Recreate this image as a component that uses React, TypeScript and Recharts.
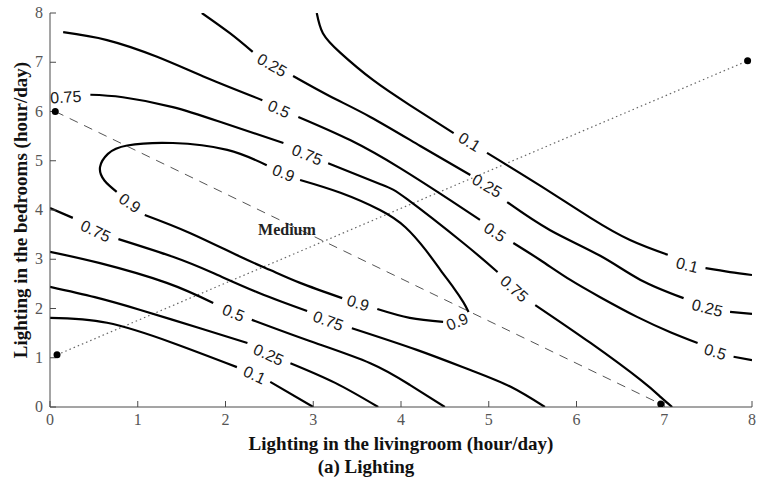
import { ComposedChart, Label, Line, Scatter, XAxis, YAxis } from "recharts";

type Row = [number, number | null];

const AXIS_TICKS = [0, 1, 2, 3, 4, 5, 6, 7, 8];

// contour lines; a null y leaves the gap where the inline label sits
const level010Upper: Row[] = [
  [3.04, 8.0], [3.11, 7.59], [3.31, 7.19], [3.68, 6.64], [4.1, 6.13], [4.6, 5.56],
  [4.78, null],
  [4.98, 5.16], [5.59, 4.49], [6.16, 3.84], [6.61, 3.39], [7.04, 3.09],
  [7.26, null],
  [7.47, 2.82], [7.75, 2.74], [8.0, 2.68],
];

const level025Upper: Row[] = [
  [1.73, 8.0], [2.05, 7.59], [2.31, 7.21],
  [2.53, null],
  [2.77, 6.72], [3.19, 6.31], [3.65, 5.89], [4.22, 5.3], [4.79, 4.71],
  [4.98, null],
  [5.21, 4.16], [5.7, 3.59], [6.27, 3.07], [6.73, 2.58], [7.22, 2.21],
  [7.49, null],
  [7.75, 1.93], [8.0, 1.89],
];

const level050Upper: Row[] = [
  [0.15, 7.61], [0.65, 7.45], [1.22, 7.11], [1.79, 6.68], [2.42, 6.23],
  [2.61, null],
  [2.83, 5.89], [3.42, 5.42], [3.99, 4.85], [4.56, 4.2], [4.9, 3.8],
  [5.07, null],
  [5.28, 3.33], [5.59, 2.98], [5.93, 2.58], [6.27, 2.23], [6.69, 1.83], [7.07, 1.52], [7.38, 1.3],
  [7.58, null],
  [7.79, 1.02], [8.0, 0.95],
];

const level075Upper: Row[] = [
  [0.46, 6.34], [0.83, 6.29], [1.4, 6.09], [1.97, 5.77], [2.66, 5.36],
  [2.93, null],
  [3.17, 4.95], [3.76, 4.53], [4.07, 4.22], [4.71, 3.33], [5.1, 2.74],
  [5.29, null],
  [5.53, 2.07], [6.16, 1.3], [6.73, 0.55], [6.96, 0.2], [7.09, 0],
];

const level090Loop: Row[] = [
  [4.48, 1.73], [4.1, 1.81], [3.73, 1.99],
  [3.51, null],
  [3.33, 2.21], [2.85, 2.52], [2.51, 2.78], [2.17, 3.05], [1.6, 3.53], [1.08, 3.9],
  [0.91, null],
  [0.76, 4.37], [0.62, 4.6], [0.57, 4.87], [0.66, 5.14], [0.88, 5.31], [1.4, 5.36], [2.02, 5.22], [2.47, 4.91],
  [2.66, null],
  [2.85, 4.61], [3.31, 4.35], [3.76, 4.0], [4.05, 3.65], [4.28, 3.19], [4.45, 2.78], [4.6, 2.42], [4.71, 2.13], [4.77, 1.93],
];

const level075Lower: Row[] = [
  [0, 4.04], [0.26, 3.84],
  [0.52, null],
  [0.78, 3.41], [1.4, 3.05], [1.86, 2.72], [2.39, 2.31], [2.93, 1.95],
  [3.17, null],
  [3.44, 1.6], [4.18, 1.16], [4.79, 0.75], [5.25, 0.41], [5.64, 0],
];

const level050Lower: Row[] = [
  [0, 3.15], [0.57, 2.92], [1.33, 2.52], [1.86, 2.11],
  [2.09, null],
  [2.3, 1.77], [2.96, 1.34], [3.65, 0.89], [4.1, 0.45], [4.5, 0],
];

const level025Lower: Row[] = [
  [0, 2.44], [0.51, 2.23], [1.03, 1.97], [1.71, 1.6], [2.25, 1.3],
  [2.49, null],
  [2.74, 0.89], [3.25, 0.49], [3.74, 0],
];

const level010Lower: Row[] = [
  [0, 1.81], [0.65, 1.71], [1.4, 1.3], [2.13, 0.81],
  [2.33, null],
  [2.51, 0.51], [3.0, 0],
];

const CONTOURS = [
  level010Upper,
  level025Upper,
  level050Upper,
  level075Upper,
  level090Loop,
  level075Lower,
  level050Lower,
  level025Lower,
  level010Lower,
];

// inline contour labels: position, text and the tilt of the line under them
const contourLabels = [
  { x: 4.78, y: 5.38, text: "0.1", angle: 32 },
  { x: 7.26, y: 2.88, text: "0.1", angle: 14 },
  { x: 2.53, y: 6.94, text: "0.25", angle: 30 },
  { x: 4.98, y: 4.49, text: "0.25", angle: 30 },
  { x: 7.49, y: 2.01, text: "0.25", angle: 14 },
  { x: 2.61, y: 6.05, text: "0.5", angle: 24 },
  { x: 5.07, y: 3.55, text: "0.5", angle: 33 },
  { x: 7.58, y: 1.12, text: "0.5", angle: 17 },
  { x: 0.18, y: 6.29, text: "0.75", angle: -3 },
  { x: 2.93, y: 5.12, text: "0.75", angle: 22 },
  { x: 5.29, y: 2.4, text: "0.75", angle: 42 },
  { x: 0.52, y: 3.57, text: "0.75", angle: 25 },
  { x: 3.17, y: 1.75, text: "0.75", angle: 20 },
  { x: 3.51, y: 2.11, text: "0.9", angle: 17 },
  { x: 0.91, y: 4.14, text: "0.9", angle: 35 },
  { x: 2.66, y: 4.75, text: "0.9", angle: 22 },
  { x: 4.64, y: 1.73, text: "0.9", angle: -22 },
  { x: 2.09, y: 1.91, text: "0.5", angle: 22 },
  { x: 2.49, y: 1.06, text: "0.25", angle: 25 },
  { x: 2.33, y: 0.65, text: "0.1", angle: 25 },
];

const dashedPath: Row[] = [[0.06, 6.0], [6.96, 0.06]];
const dottedPath: Row[] = [[0.08, 1.06], [7.95, 7.03]];
const markerDots: Row[] = [[0.06, 6.0], [6.96, 0.06], [0.08, 1.06], [7.95, 7.03]];
const regionLabels = [{ x: 2.7, y: 3.61, text: "Medium" }];

const SERIF = "'Liberation Serif', 'Times New Roman', serif";
const SANS = "'Liberation Sans', Arial, sans-serif";
const AXIS_GREY = "#4a4a4a";

const toPoints = (rows: Row[]) => rows.map(([x, y]) => ({ x, y }));

function BottomTick(props: any) {
  const { x, y, payload } = props;
  return (
    <text x={x} y={y + 12} textAnchor="middle" fontFamily={SERIF} fontSize={16} fill="#555">
      {payload.value}
    </text>
  );
}

function LeftTick(props: any) {
  const { x, y, payload } = props;
  return (
    <text x={x} y={y + 5} textAnchor="end" fontFamily={SERIF} fontSize={16} fill="#555">
      {payload.value}
    </text>
  );
}

function ContourLabel(props: any) {
  const { cx, cy, payload } = props;
  if (cx == null || cy == null) return null;
  return (
    <text
      x={cx}
      y={cy}
      textAnchor="middle"
      dominantBaseline="central"
      transform={`rotate(${payload.angle} ${cx} ${cy})`}
      fontFamily={SANS}
      fontSize={16}
      fill="#1a1a1a"
    >
      {payload.text}
    </text>
  );
}

function RegionLabel(props: any) {
  const { cx, cy, payload } = props;
  if (cx == null || cy == null) return null;
  return (
    <text
      x={cx}
      y={cy}
      textAnchor="middle"
      dominantBaseline="central"
      fontFamily={SERIF}
      fontWeight="bold"
      fontSize={16}
      fill="#222"
    >
      {payload.text}
    </text>
  );
}

function MarkerDot(props: any) {
  const { cx, cy } = props;
  if (cx == null || cy == null) return null;
  return <circle cx={cx} cy={cy} r={3.5} fill="#000" />;
}

export default function App() {
  const titleStyle = { fontFamily: SERIF, fontWeight: "bold", fontSize: 19, fill: "#111" };

  return (
    <div
      style={{
        position: "absolute",
        left: 0,
        top: 0,
        width: 757,
        height: 489,
        background: "#fff",
      }}
    >
      <ComposedChart
        width={757}
        height={489}
        margin={{ top: 13, right: 5, bottom: 0, left: 0 }}
      >
        <XAxis
          dataKey="x"
          type="number"
          domain={[0, 8]}
          ticks={AXIS_TICKS}
          allowDataOverflow
          height={82}
          tickSize={-6}
          tickMargin={12}
          tick={<BottomTick />}
          stroke={AXIS_GREY}
        >
          <Label
            value="Lighting in the livingroom (hour/day)"
            position="insideTop"
            offset={30}
            style={titleStyle}
          />
          <Label
            value="(a) Lighting"
            position="insideTop"
            offset={53}
            dx={-35}
            style={titleStyle}
          />
        </XAxis>
        <XAxis
          xAxisId="top"
          orientation="top"
          dataKey="x"
          type="number"
          domain={[0, 8]}
          ticks={AXIS_TICKS}
          allowDataOverflow
          height={0}
          tickSize={-6}
          tick={false}
          stroke={AXIS_GREY}
        />
        <YAxis
          dataKey="y"
          type="number"
          domain={[0, 8]}
          ticks={AXIS_TICKS}
          allowDataOverflow
          width={50}
          tickSize={-6}
          tickMargin={13}
          tick={<LeftTick />}
          stroke={AXIS_GREY}
        >
          <Label
            value="Lighting in the bedrooms (hour/day)"
            angle={-90}
            position="insideLeft"
            offset={20}
            style={{ ...titleStyle, textAnchor: "middle" }}
          />
        </YAxis>
        <YAxis
          yAxisId="right"
          orientation="right"
          dataKey="y"
          type="number"
          domain={[0, 8]}
          ticks={AXIS_TICKS}
          allowDataOverflow
          width={0}
          tickSize={-6}
          tick={false}
          stroke={AXIS_GREY}
        />

        <Line
          data={toPoints(dashedPath)}
          dataKey="y"
          type="linear"
          stroke="#555"
          strokeWidth={1}
          strokeDasharray="9 7"
          dot={false}
          activeDot={false}
          isAnimationActive={false}
        />
        <Line
          data={toPoints(dottedPath)}
          dataKey="y"
          type="linear"
          stroke="#666"
          strokeWidth={1.2}
          strokeDasharray="1.5 3"
          dot={false}
          activeDot={false}
          isAnimationActive={false}
        />

        {CONTOURS.map((rows, i) => (
          <Line
            key={i}
            data={toPoints(rows)}
            dataKey="y"
            type="natural"
            stroke="#000"
            strokeWidth={2.2}
            connectNulls={false}
            dot={false}
            activeDot={false}
            isAnimationActive={false}
          />
        ))}

        <Scatter
          data={contourLabels}
          dataKey="y"
          shape={<ContourLabel />}
          isAnimationActive={false}
        />
        <Scatter
          data={regionLabels}
          dataKey="y"
          shape={<RegionLabel />}
          isAnimationActive={false}
        />
        <Scatter
          data={toPoints(markerDots)}
          dataKey="y"
          shape={<MarkerDot />}
          isAnimationActive={false}
        />
      </ComposedChart>
    </div>
  );
}
